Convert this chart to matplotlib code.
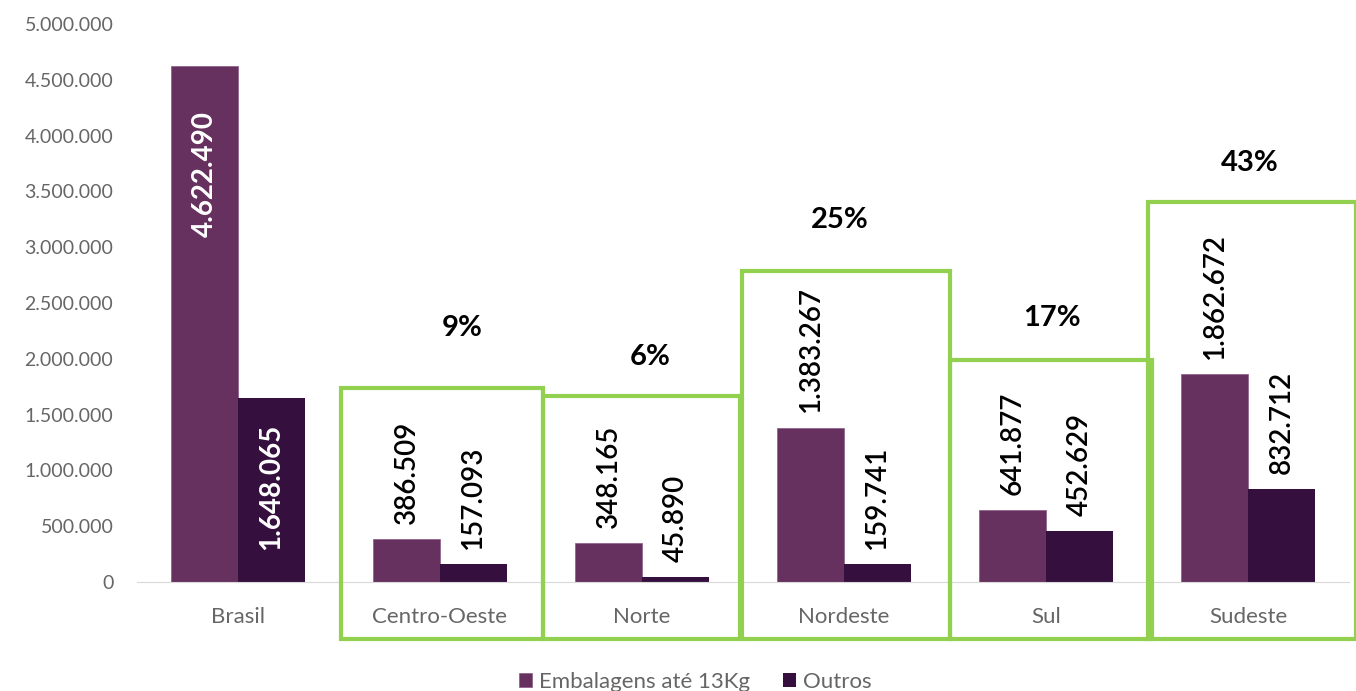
import matplotlib
matplotlib.use("Agg")
import matplotlib.pyplot as plt
from matplotlib.patches import Rectangle
import numpy as np

categories = ["Brasil", "Centro-Oeste", "Norte", "Nordeste", "Sul", "Sudeste"]
embalagens = [4622490, 386509, 348165, 1383267, 641877, 1862672]
outros = [1648065, 157093, 45890, 159741, 452629, 832712]
percent_labels = ["", "9%", "6%", "25%", "17%", "43%"]
yticks = [0, 500000, 1000000, 1500000, 2000000, 2500000, 3000000, 3500000, 4000000, 4500000, 5000000]

C1 = "#66305f"
C2 = "#35103f"
GREEN = "#92d050"
GRAY = "#666666"
FONT = "Lato"

def fmt(v):
    return f"{v:,}".replace(",", ".")

fig = plt.figure(figsize=(13.56, 6.91), dpi=100)
ax = fig.add_axes([137/1356, 109/691, 1212/1356, 558/691])
x = np.arange(len(categories))
w = 0.33
ax.bar(x - w/2, embalagens, w, color=C1, label="Embalagens até 13Kg", edgecolor="#8a5a85", linewidth=0.5)
ax.bar(x + w/2, outros, w, color=C2, label="Outros")

ax.set_xlim(-0.5, 5.5)
ax.set_ylim(0, 5000000)
ax.set_yticks(yticks)
ax.set_yticklabels([fmt(v) for v in yticks], fontsize=14, color=GRAY, family=FONT)
ax.set_xticks(x)
ax.set_xticklabels(categories, fontsize=16, color=GRAY, family=FONT)
ax.tick_params(axis="y", length=0, pad=17)
ax.tick_params(axis="x", length=0, pad=18)
for s in ["top", "right", "left"]:
    ax.spines[s].set_visible(False)
ax.spines["bottom"].set_color("#d9d9d9")

# value labels
for i in range(len(categories)):
    for xv, v in ((x[i] - w/2, embalagens[i]), (x[i] + w/2, outros[i])):
        if i == 0:
            off = -45 if v == embalagens[0] else -26
            ax.annotate(fmt(v), (xv, v), xytext=(0, off * 0.72), textcoords="offset points",
                        rotation=90, ha="center", va="top", color="white",
                        fontsize=20, fontweight="bold", family=FONT)
        else:
            ax.annotate(fmt(v), (xv, v), xytext=(0, 11), textcoords="offset points",
                        rotation=90, ha="center", va="bottom", color="black",
                        fontsize=20, fontweight="semibold", family=FONT)

# green boxes (data coords)
boxes = [(0.51, 1.51, 1738000), (1.51, 2.485, 1667000), (2.495, 3.525, 2787000),
         (3.525, 4.525, 1989000), (4.505, 5.535, 3405000)]
for (x0, x1, top) in boxes:
    r = Rectangle((x0, -515000), x1 - x0, top + 515000, fill=False, edgecolor=GREEN,
                  linewidth=3, clip_on=False, zorder=5)
    ax.add_patch(r)

pct_pos = [None, (1.11, 2276000), (2.04, 2016000), (2.98, 3244000), (4.03, 2366000), (5.01, 3754000)]
for lab, pos in zip(percent_labels, pct_pos):
    if pos is None:
        continue
    ax.text(pos[0], pos[1], lab, ha="center", va="center", fontsize=21,
            fontweight="bold", family=FONT, color="black")

leg = fig.legend(loc="center", bbox_to_anchor=(695/1356, 9/691), ncol=2, frameon=False,
                 prop={"family": FONT, "size": 16}, handlelength=0.6, handleheight=0.6,
                 handletextpad=0.3, columnspacing=1.5)
for t in leg.get_texts():
    t.set_color(GRAY)

fig.savefig("out.png", dpi=100)
